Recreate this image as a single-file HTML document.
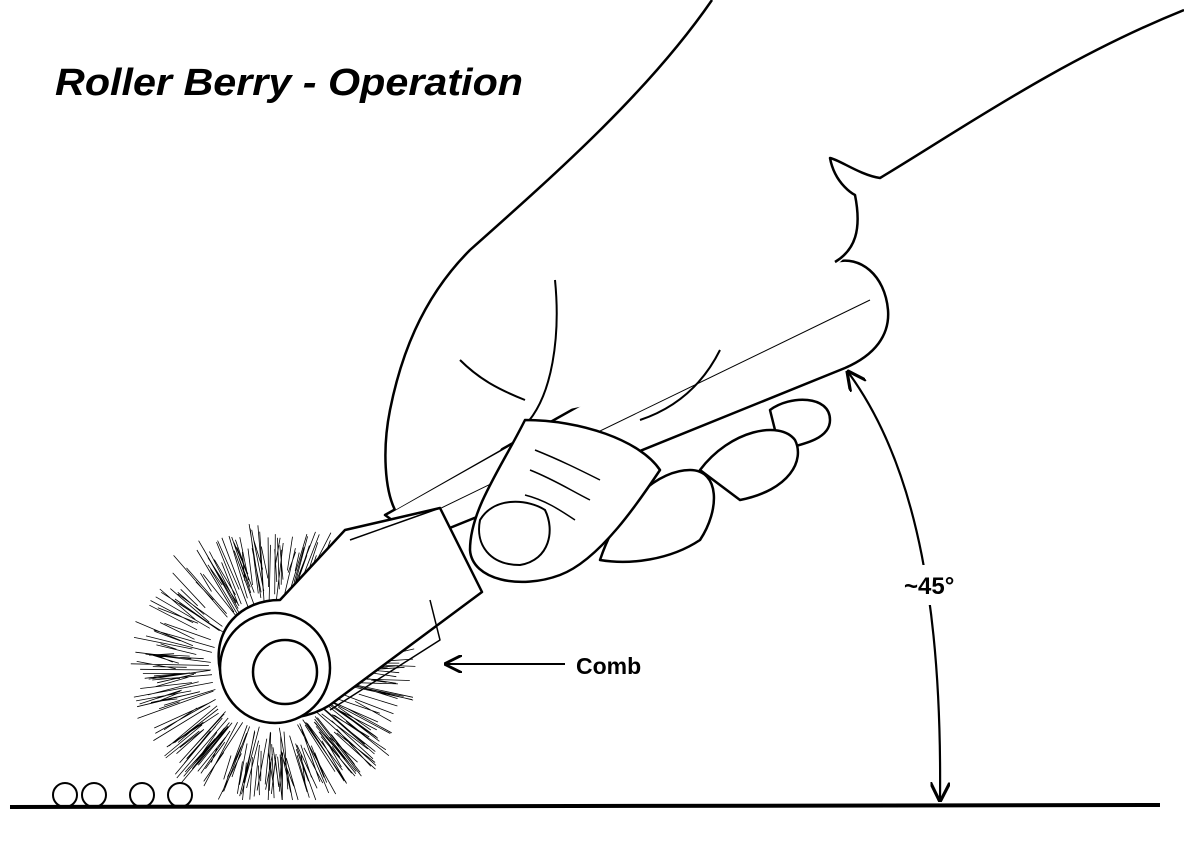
<!DOCTYPE html>
<html><head><meta charset="utf-8"><style>
html,body{margin:0;padding:0;background:#fff;width:1184px;height:864px;overflow:hidden}
svg{display:block}
text{font-family:"Liberation Sans",sans-serif;font-weight:bold;fill:#000}
</style></head><body>
<svg width="1184" height="864" viewBox="0 0 1184 864" xmlns="http://www.w3.org/2000/svg">
<defs>
<marker id="ah" viewBox="0 0 10 10" refX="9" refY="5" markerWidth="9" markerHeight="9" orient="auto-start-reverse"><path d="M0,0 L10,5 L0,10" fill="none" stroke="#000" stroke-width="1.6"/></marker>
</defs>
<text x="55" y="95" font-size="38" font-style="italic" textLength="468" lengthAdjust="spacingAndGlyphs">Roller Berry - Operation</text>
<g id="spikes" stroke="#000" stroke-width="0.8" fill="none"></g>
<g fill="#fff" stroke="#000" stroke-width="2.5" stroke-linejoin="round">
<path d="M385,515 L835,262 C860,255 885,275 888,310 C890,335 875,355 845,368 L420,540 Z"/>
<line x1="400" y1="528" x2="870" y2="300" stroke-width="1"/>
<path d="M345,530 L440,508 L482,592 L330,705 C290,730 230,720 220,670 C212,630 240,600 280,600 Z"/>
<line x1="440" y1="508" x2="350" y2="540" stroke-width="1.5"/>
<path d="M430,600 L440,640 L330,710" fill="none" stroke-width="1.5"/>
<circle cx="275" cy="668" r="55"/>
<circle cx="285" cy="672" r="32"/>
<path d="M712,0 C650,90 560,170 470,250 C420,300 400,360 390,410 C382,450 385,490 395,510 L500,450 C520,420 560,410 590,405 C640,400 700,380 760,330 C800,300 820,275 840,262 C855,250 862,230 855,195 C870,185 880,180 880,178 C960,130 1060,60 1184,10 L1184,0 Z" stroke="none"/>
<path d="M712,0 C650,90 560,170 470,250 C420,300 400,360 390,410 C382,450 385,490 395,510" fill="none"/>
<path d="M1184,10 C1060,60 960,130 880,178 C860,175 840,160 830,158 C835,185 855,195 855,195 C862,230 855,250 835,262" fill="none"/>
<path d="M555,280 C560,330 555,400 520,430" fill="none" stroke-width="2"/>
<path d="M720,350 C700,390 670,410 640,420" fill="none" stroke-width="2"/>
<path d="M460,360 C480,380 500,390 525,400" fill="none" stroke-width="2"/>
<path d="M770,410 C790,395 830,395 830,420 C830,440 800,445 780,450 Z"/>
<path d="M700,470 C730,430 780,420 795,440 C805,460 790,490 740,500 Z"/>
<path d="M600,560 C620,500 660,470 690,470 C720,470 720,510 700,540 C670,560 630,565 600,560 Z"/>
<path d="M525,420 C500,470 470,510 470,550 C472,580 520,590 560,575 C600,560 640,500 660,470 C640,440 580,420 525,420 Z"/>
<path d="M480,520 C495,495 530,500 545,510 C555,530 550,560 520,565 C490,565 475,545 480,520 Z" stroke-width="2"/>
<path d="M535,450 C560,460 580,470 600,480 M530,470 C555,480 570,490 590,500 M525,495 C545,500 560,510 575,520" fill="none" stroke-width="1.5"/>
</g>
<g fill="none" stroke="#000" stroke-width="2">
<circle cx="65" cy="795" r="12"/><circle cx="94" cy="795" r="12"/>
<circle cx="142" cy="795" r="12"/><circle cx="180" cy="795" r="12"/>
</g>
<line x1="10" y1="807" x2="1160" y2="805" stroke="#000" stroke-width="4"/>
<line x1="565" y1="664" x2="446" y2="664" stroke="#000" stroke-width="2" marker-end="url(#ah)"/>
<text x="576" y="674" font-size="23">Comb</text>
<path d="M940,800 C942,620 920,470 848,372" fill="none" stroke="#000" stroke-width="2.2" marker-start="url(#ah)" marker-end="url(#ah)"/>
<rect x="898" y="565" width="80" height="40" fill="#fff"/>
<text x="904" y="594" font-size="24">~45°</text>
<script>
(function(){var g=document.getElementById('spikes'),s='';var cx=272,cy=668;var seed=7;function r(){seed=(seed*9301+49297)%233280;return seed/233280;}
for(var i=0;i<320;i++){var a=r()*Math.PI*2;var r0=60+r()*40;var r1=115+r()*30;
var x0=cx+Math.cos(a)*r0,y0=cy+Math.sin(a)*r0,x1=cx+Math.cos(a+(r()-.5)*.12)*r1,y1=cy+Math.sin(a+(r()-.5)*.12)*r1;
if(y1>800)y1=800;s+='M'+x0.toFixed(1)+','+y0.toFixed(1)+'L'+x1.toFixed(1)+','+y1.toFixed(1);}
var p=document.createElementNS('http://www.w3.org/2000/svg','path');p.setAttribute('d',s);g.appendChild(p);})();
</script>
</svg>
</body></html>
